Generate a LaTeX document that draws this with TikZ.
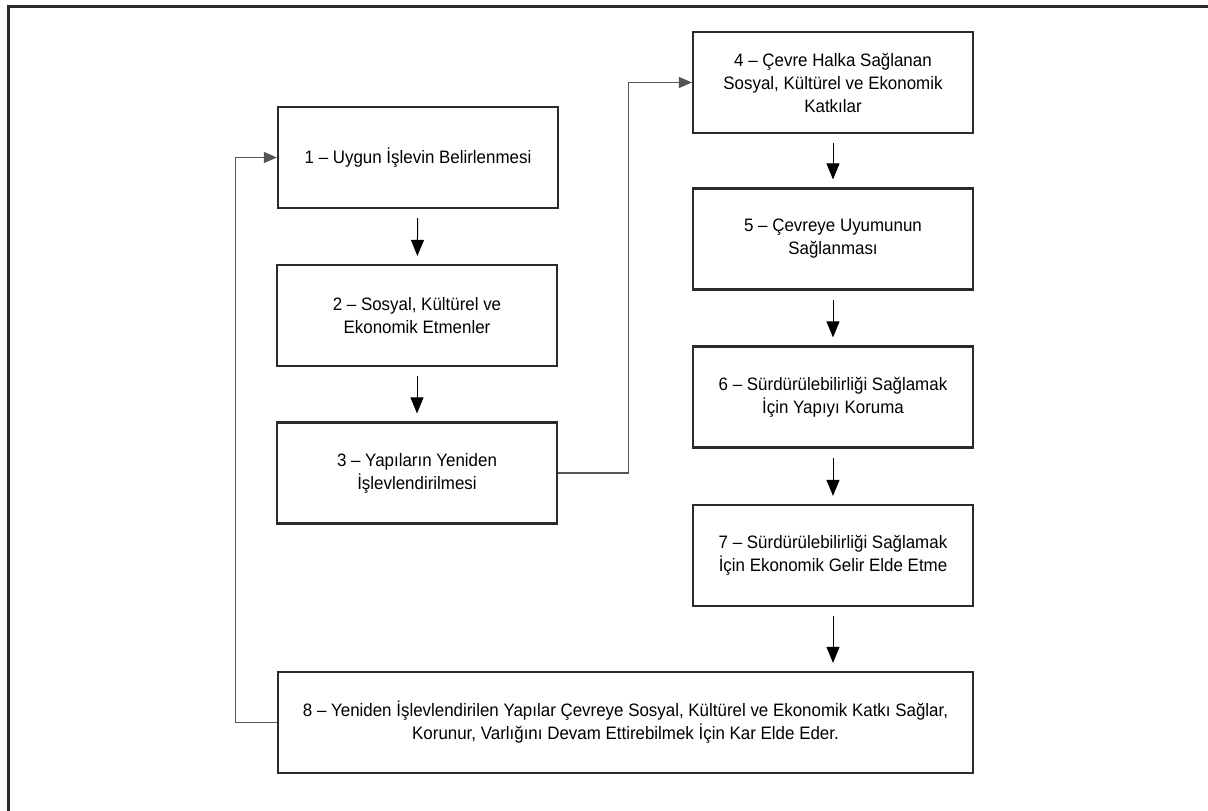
\documentclass[tikz,border=0pt]{standalone}
\usepackage{fontspec}
\setmainfont{Liberation Sans}
\newfontfamily\stagefont{Liberation Sans}[FakeStretch=0.94, Ligatures=TeX]
\usetikzlibrary{arrows.meta}
\definecolor{framegray}{HTML}{2B2B2B}
\definecolor{linegray}{HTML}{555555}
\tikzset{
  stage/.style={draw=framegray, line width=2.2pt, minimum width=280pt, minimum height=101pt,
    align=center, inner sep=0pt, font=\stagefont\fontsize{18}{23}\selectfont},
  flow/.style={-{Triangle[length=16pt,width=13pt]}, draw=black, line width=1pt, shorten <=9pt, shorten >=8pt},
  back/.style={-{Triangle[length=13pt,width=11pt]}, draw=linegray, line width=1.1pt}
}
\begin{document}
\begin{tikzpicture}[x=1pt, y=-1pt]
\useasboundingbox (0,0) rectangle (1208,811);
\draw[framegray, line width=3pt](1208,6.5)--(8,6.5)--(8,811);
% left column
\node[stage] (b1) at (418,157.5) {1 – Uygun İşlevin Belirlenmesi};
\node[stage] (b2) at (417,315.5) {2 – Sosyal, Kültürel ve\\Ekonomik Etmenler};
\node[stage] (b3) at (417,473) {3 – Yapıların Yeniden\\İşlevlendirilmesi};
% right column
\node[stage] (b4) at (833,82.5) {4 – Çevre Halka Sağlanan\\Sosyal, Kültürel ve Ekonomik\\Katkılar};
\node[stage] (b5) at (833,239) {5 – Çevreye Uyumunun\\Sağlanması};
\node[stage] (b6) at (833,397) {6 – Sürdürülebilirliği Sağlamak\\İçin Yapıyı Koruma};
\node[stage] (b7) at (833,555.5) {7 – Sürdürülebilirliği Sağlamak\\İçin Ekonomik Gelir Elde Etme};
\node[stage, minimum width=695pt] (b8) at (625.5,722.5) {8 – Yeniden İşlevlendirilen Yapılar Çevreye Sosyal, Kültürel ve Ekonomik Katkı Sağlar,\\Korunur, Varlığını Devam Ettirebilmek İçin Kar Elde Eder.};
\draw[flow](b1)--(b2);
\draw[flow](b2)--(b3);
\draw[flow](b4)--(b5);
\draw[flow](b5)--(b6);
\draw[flow](b6)--(b7);
\draw[flow](b7.south)--(b7.south |- b8.north);
\draw[back](b3.east)--++(70,0)|-(b4.west);
\draw[back](b8.west)--++(-41,0)|-(b1.west);
\end{tikzpicture}
\end{document}
